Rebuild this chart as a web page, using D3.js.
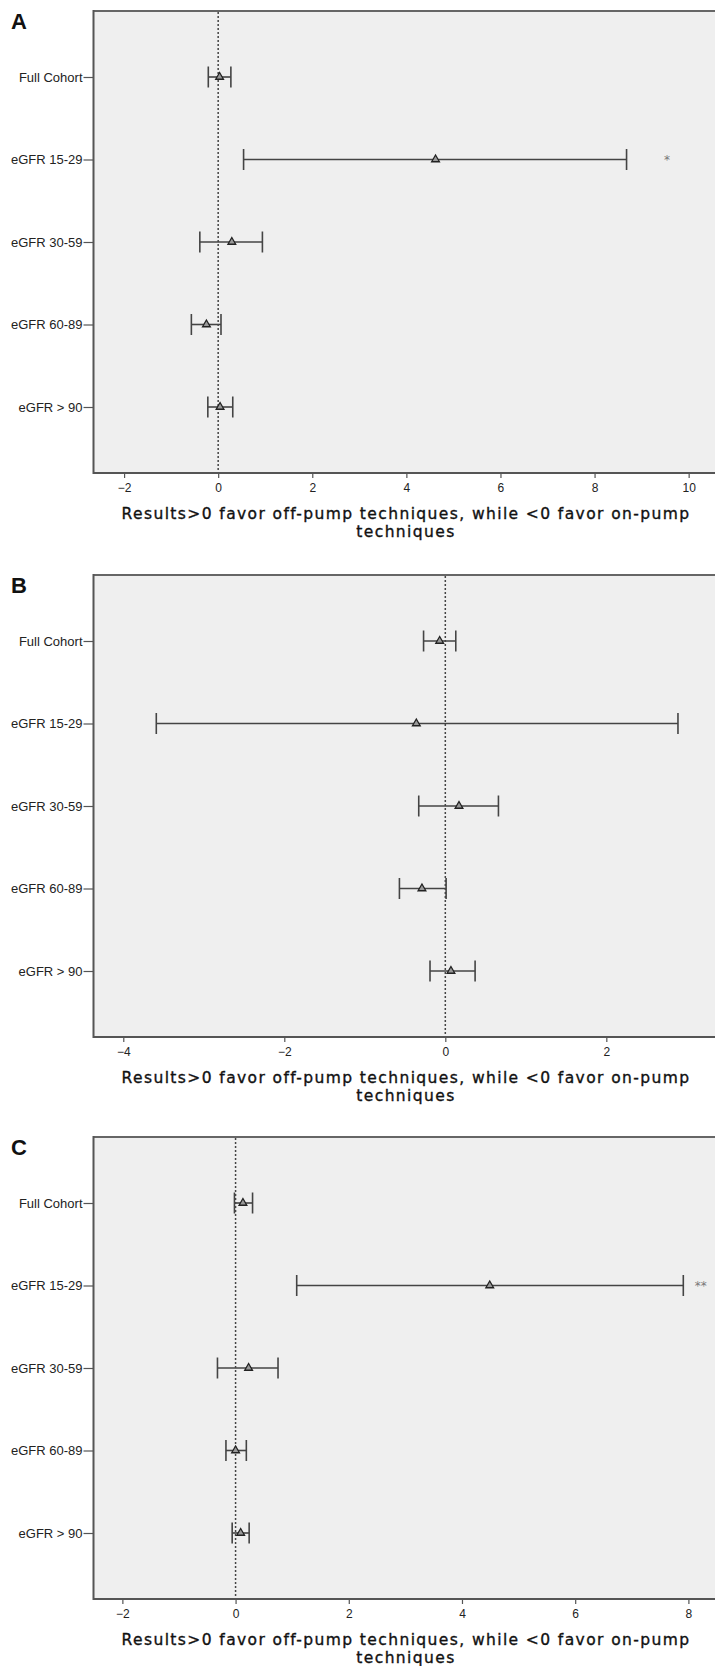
<!DOCTYPE html>
<html><head><meta charset="utf-8">
<script src="https://cdn.jsdelivr.net/npm/d3@7/dist/d3.min.js"></script>
<style>
html,body{margin:0;padding:0;background:#fff;}
svg{display:block;}
</style></head>
<body>
<script>
// ---- data ----
const categories = ["Full Cohort", "eGFR 15-29", "eGFR 30-59", "eGFR 60-89", "eGFR > 90"];
const panelLabels = ["A", "B", "C"];

const estA  = [0.03, 4.62, 0.29, -0.25, 0.04];
const lowA  = [-0.21, 0.54, -0.39, -0.57, -0.22];
const highA = [0.27, 8.68, 0.94, 0.06, 0.31];
const sigA  = ["", "*", "", "", ""];
const sigPosA = 9.54;
const ticksA = [-2, 0, 2, 4, 6, 8, 10];
const domainA = [-2.65, 10.56];

const estB  = [-0.07, -0.36, 0.17, -0.29, 0.07];
const lowB  = [-0.27, -3.59, -0.33, -0.57, -0.19];
const highB = [0.13, 2.89, 0.66, 0.01, 0.37];
const sigB  = ["", "", "", "", ""];
const sigPosB = 0;
const ticksB = [-4, -2, 0, 2];
const domainB = [-4.37, 3.35];

const estC  = [0.13, 4.49, 0.23, 0.00, 0.09];
const lowC  = [-0.02, 1.08, -0.32, -0.17, -0.06];
const highC = [0.30, 7.91, 0.75, 0.19, 0.24];
const sigC  = ["", "**", "", "", ""];
const sigPosC = 8.22;
const ticksC = [-2, 0, 2, 4, 6, 8];
const domainC = [-2.51, 8.47];

const titleLine1 = "Results>0 favor off-pump techniques, while <0 favor on-pump";
const titleLine2 = "techniques";

// ---- layout ----
const W = 715, H = 1666;
const svg = d3.select("body").append("svg").attr("width", W).attr("height", H);

const panels = [
  {label: panelLabels[0], est: estA, low: lowA, high: highA, sig: sigA, sigPos: sigPosA, ticks: ticksA, domain: domainA, top: 11},
  {label: panelLabels[1], est: estB, low: lowB, high: highB, sig: sigB, sigPos: sigPosB, ticks: ticksB, domain: domainB, top: 575},
  {label: panelLabels[2], est: estC, low: lowC, high: highC, sig: sigC, sigPos: sigPosC, ticks: ticksC, domain: domainC, top: 1137}
];

const left = 93.5, right = 715, plotH = 462;
const frameColor = "#555";
const barColor = "#444";

panels.forEach(p => {
  const g = svg.append("g");
  const top = p.top, bottom = top + plotH;
  const x = d3.scaleLinear().domain(p.domain).range([left, right]);
  const y = d3.scalePoint().domain(categories).range([top, bottom]).padding(0.8);

  // background
  g.append("rect").attr("x", left).attr("y", top).attr("width", right - left + 5).attr("height", plotH)
    .attr("fill", "#efefef");
  // top border
  g.append("line").attr("x1", left).attr("x2", right + 5).attr("y1", top).attr("y2", top)
    .attr("stroke", "#666").attr("stroke-width", 2);

  // panel letter
  g.append("text").attr("x", 11).attr("y", top + 17.5).text(p.label)
    .attr("font-family", "Liberation Sans, Arial, sans-serif").attr("font-weight", "bold")
    .attr("font-size", 22).attr("fill", "#111");

  // reference line at 0
  g.append("line").attr("x1", x(0)).attr("x2", x(0)).attr("y1", top + 1).attr("y2", bottom)
    .attr("stroke", "#444").attr("stroke-width", 1.5).attr("stroke-dasharray", "2,2");

  // x axis
  const xa = g.append("g").attr("transform", `translate(0,${bottom})`)
    .call(d3.axisBottom(x).tickValues(p.ticks).tickSize(5).tickPadding(5).tickFormat(d3.format("d")));
  xa.select(".domain").remove();
  xa.selectAll(".tick line").attr("stroke", frameColor).attr("stroke-width", 1.2);
  xa.selectAll(".tick text").attr("font-family", "Liberation Sans, Arial, sans-serif")
    .attr("font-size", 12).attr("fill", "#222");
  g.append("line").attr("x1", left).attr("x2", right + 5).attr("y1", bottom).attr("y2", bottom)
    .attr("stroke", frameColor).attr("stroke-width", 2);

  // y axis
  const ya = g.append("g").attr("transform", `translate(${left},0)`)
    .call(d3.axisLeft(y).tickSize(10).tickPadding(1));
  ya.select(".domain").remove();
  ya.selectAll(".tick line").attr("stroke", frameColor).attr("stroke-width", 1.2);
  ya.selectAll(".tick text").attr("font-family", "Liberation Sans, Arial, sans-serif")
    .attr("font-size", 13).attr("fill", "#222");
  g.append("line").attr("x1", left).attr("x2", left).attr("y1", top - 1).attr("y2", bottom + 1)
    .attr("stroke", frameColor).attr("stroke-width", 2);

  // error bars
  const rows = categories.map((c, i) => ({c, est: p.est[i], lo: p.low[i], hi: p.high[i], sig: p.sig[i]}));
  const eb = g.selectAll(".eb").data(rows).enter().append("g");
  eb.append("line").attr("x1", d => x(d.lo)).attr("x2", d => x(d.hi))
    .attr("y1", d => y(d.c)).attr("y2", d => y(d.c)).attr("stroke", barColor).attr("stroke-width", 1.6);
  eb.append("line").attr("x1", d => x(d.lo)).attr("x2", d => x(d.lo))
    .attr("y1", d => y(d.c) - 10.5).attr("y2", d => y(d.c) + 10.5).attr("stroke", barColor).attr("stroke-width", 1.6);
  eb.append("line").attr("x1", d => x(d.hi)).attr("x2", d => x(d.hi))
    .attr("y1", d => y(d.c) - 10.5).attr("y2", d => y(d.c) + 10.5).attr("stroke", barColor).attr("stroke-width", 1.6);
  eb.append("path").attr("d", d3.symbol().type(d3.symbolTriangle).size(26))
    .attr("transform", d => `translate(${x(d.est)},${y(d.c)})`)
    .attr("fill", "#999").attr("stroke", "#222").attr("stroke-width", 1.3);
  eb.filter(d => d.sig).append("text")
    .attr("x", x(p.sigPos)).attr("y", d => y(d.c) + 4)
    .attr("text-anchor", "middle")
    .text(d => d.sig).attr("font-family", "DejaVu Sans, sans-serif").attr("font-size", 12)
    .attr("fill", "#777");

  // axis title (two lines)
  const tx = 406;
  const tstyle = sel => sel.attr("text-anchor", "middle")
    .attr("font-family", "DejaVu Sans, sans-serif").attr("font-size", 15.5).attr("letter-spacing", 1.4)
    .attr("fill", "#111").attr("stroke", "#111").attr("stroke-width", 0.35);
  g.append("text").attr("x", tx).attr("y", bottom + 46).text(titleLine1).call(tstyle);
  g.append("text").attr("x", tx).attr("y", bottom + 64.3).text(titleLine2).call(tstyle);
});
</script>
</body></html>
